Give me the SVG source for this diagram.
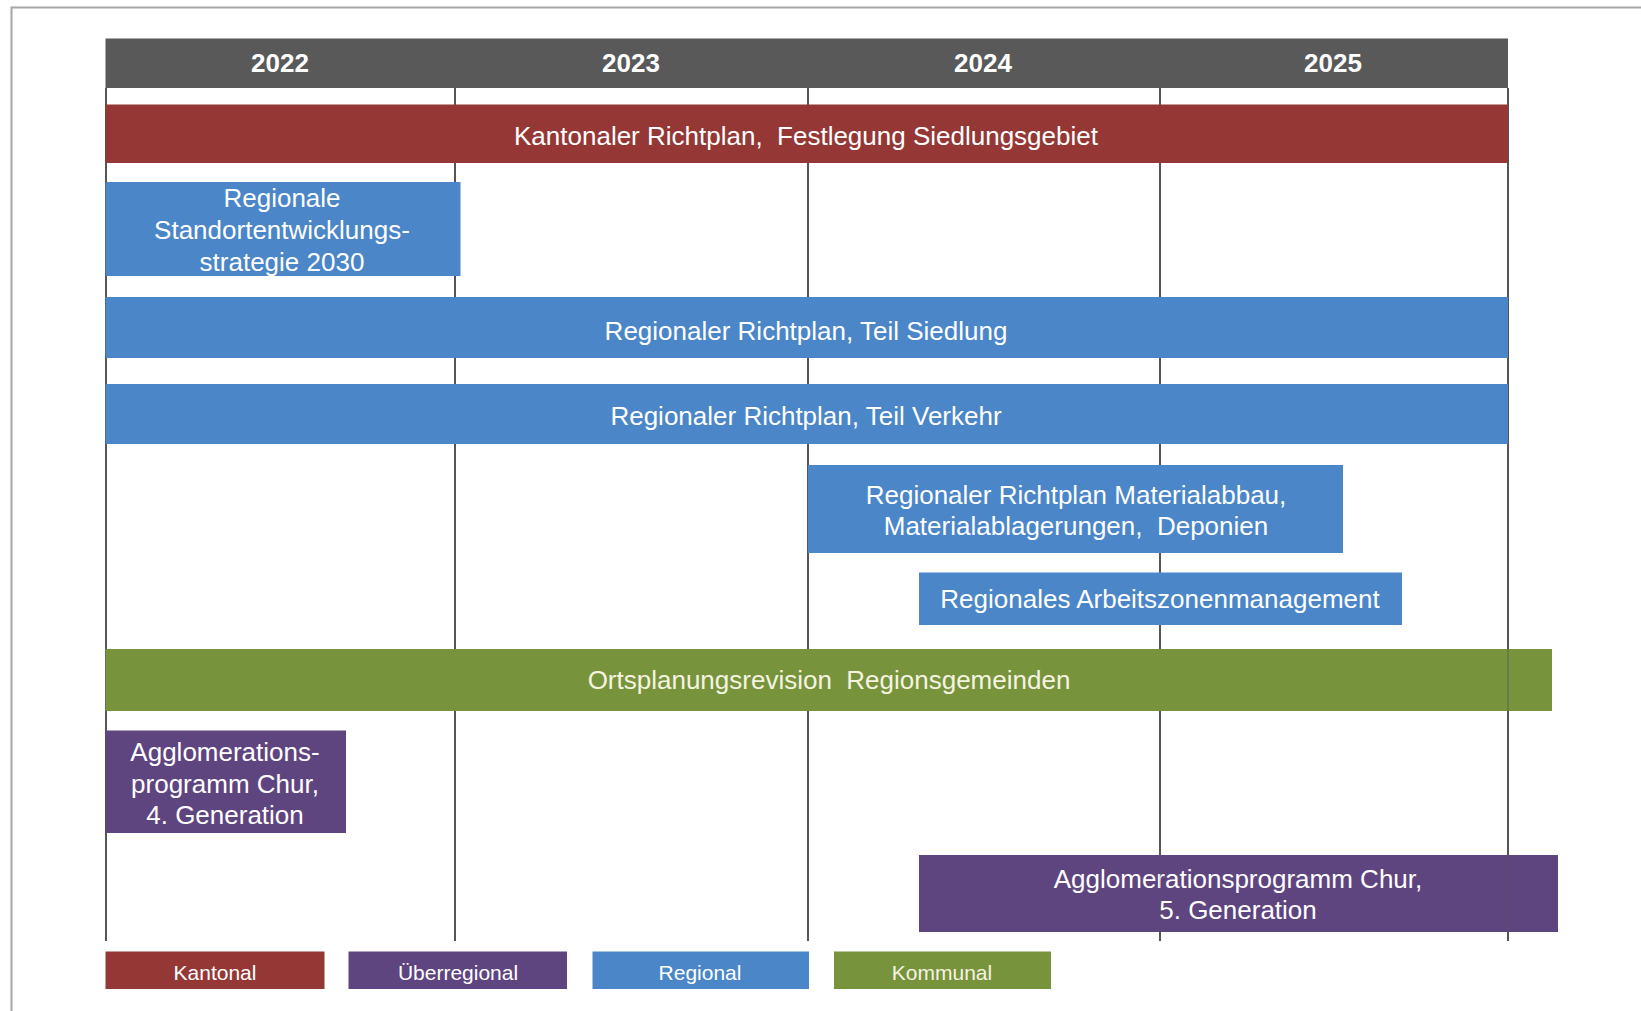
<svg xmlns="http://www.w3.org/2000/svg" width="1641" height="1011" viewBox="0 0 1641 1011">
<style>
  .t { font-family: "Liberation Sans", Arial, sans-serif; font-size: 26px; fill: #ffffff; text-anchor: middle; }
  .yr { font-family: "Liberation Sans", Arial, sans-serif; font-size: 26px; font-weight: bold; fill: #ffffff; text-anchor: middle; }
  .lg { font-family: "Liberation Sans", Arial, sans-serif; font-size: 21px; fill: #ffffff; text-anchor: middle; }
  .grid { stroke: #555555; stroke-width: 2; fill: none; }
  .red { fill: #953735; }
  .blue { fill: #4a86c8; }
  .green { fill: #77933c; }
  .purple { fill: #5f4580; }
</style>
<rect x="0" y="0" width="1641" height="1011" fill="#ffffff"/>
<path d="M11.5 1011 V7.5 H1641" stroke="#a6a6a6" stroke-width="2" fill="none"/>

<g id="header">
  <rect x="105.5" y="38.5" width="1402.5" height="49.5" fill="#595959"/>
  <text class="yr" x="280" y="72">2022</text>
  <text class="yr" x="631" y="72">2023</text>
  <text class="yr" x="983" y="72">2024</text>
  <text class="yr" x="1333" y="72">2025</text>
</g>

<g id="connectors">
  <line class="grid" x1="106" y1="88" x2="106" y2="941"/>
  <line class="grid" x1="455" y1="88" x2="455" y2="941"/>
  <line class="grid" x1="808" y1="88" x2="808" y2="941"/>
  <line class="grid" x1="1160" y1="88" x2="1160" y2="941"/>
  <line class="grid" x1="1508" y1="88" x2="1508" y2="941"/>
</g>

<g id="kantonaler-richtplan">
  <rect class="red" x="105.5" y="104.5" width="1402.5" height="58.5"/>
  <text class="t" x="806" y="145" xml:space="preserve">Kantonaler Richtplan,  Festlegung Siedlungsgebiet</text>
</g>

<g id="standortentwicklungsstrategie">
  <rect class="blue" x="105.5" y="182" width="355" height="94"/>
  <text class="t" x="282" y="207">Regionale</text>
  <text class="t" x="282" y="239">Standortentwicklungs-</text>
  <text class="t" x="282" y="271">strategie 2030</text>
</g>

<g id="teil-siedlung">
  <rect class="blue" x="105.5" y="297" width="1402.5" height="61"/>
  <text class="t" x="806" y="340">Regionaler Richtplan, Teil Siedlung</text>
</g>

<g id="teil-verkehr">
  <rect class="blue" x="105.5" y="384" width="1402.5" height="60"/>
  <text class="t" x="806" y="425">Regionaler Richtplan, Teil Verkehr</text>
</g>

<g id="materialabbau">
  <rect class="blue" x="808" y="465" width="535" height="88"/>
  <text class="t" x="1076" y="504">Regionaler Richtplan Materialabbau,</text>
  <text class="t" x="1076" y="535" xml:space="preserve">Materialablagerungen,  Deponien</text>
</g>

<g id="arbeitszonenmanagement">
  <rect class="blue" x="919" y="572.5" width="483" height="52.5"/>
  <text class="t" x="1160" y="608">Regionales Arbeitszonenmanagement</text>
</g>

<g id="ortsplanungsrevision">
  <rect class="green" x="105.5" y="649" width="1446.5" height="62"/>
  <text class="t" x="829" y="689" fill="#f4f4e0" style="fill:#f4f4e0" xml:space="preserve">Ortsplanungsrevision  Regionsgemeinden</text>
</g>

<g id="agglo-4">
  <rect class="purple" x="105.5" y="730.5" width="240.5" height="102.5"/>
  <text class="t" x="225" y="761">Agglomerations-</text>
  <text class="t" x="225" y="793">programm Chur,</text>
  <text class="t" x="225" y="824">4. Generation</text>
</g>

<g id="agglo-5">
  <rect class="purple" x="919" y="855" width="639" height="77"/>
  <text class="t" x="1238" y="888">Agglomerationsprogramm Chur,</text>
  <text class="t" x="1238" y="919">5. Generation</text>
</g>

<g id="grid-overlay" opacity="0.35">
  <line class="grid" x1="1508" y1="649" x2="1508" y2="711"/>
  <line class="grid" x1="1508" y1="855" x2="1508" y2="932"/>
  <line class="grid" x1="1160" y1="855" x2="1160" y2="932" opacity="0.5"/>
</g>

<g id="legend">
  <rect class="red" x="105.5" y="951.5" width="219" height="37.5"/>
  <text class="lg" x="215" y="980">Kantonal</text>
  <rect class="purple" x="348.5" y="951.5" width="218.5" height="37.5"/>
  <text class="lg" x="458" y="980">Überregional</text>
  <rect class="blue" x="592.5" y="951.5" width="216.5" height="37.5"/>
  <text class="lg" x="700" y="980">Regional</text>
  <rect class="green" x="834" y="951.5" width="217" height="37.5"/>
  <text class="lg" x="942" y="980" style="fill:#f4f4e0">Kommunal</text>
</g>
</svg>
